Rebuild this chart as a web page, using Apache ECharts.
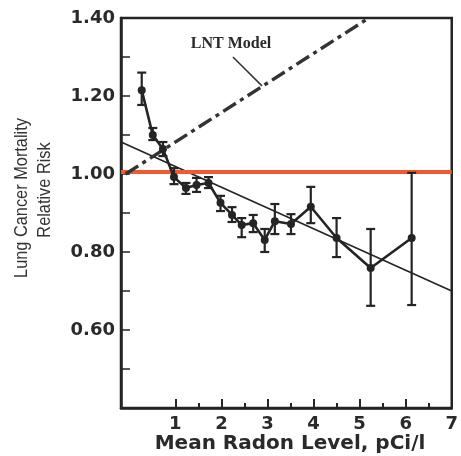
<!DOCTYPE html>
<html>
<head>
<meta charset="utf-8">
<script src="https://cdn.jsdelivr.net/npm/echarts@6/dist/echarts.min.js"></script>
<style>
html,body{margin:0;padding:0;background:#fff;}
#c{width:461px;height:456px;}
</style>
</head>
<body>
<div id="c"></div>
<script>
// Data
var radonLevel = [0.27, 0.51, 0.73, 0.97, 1.23, 1.46, 1.72, 1.98, 2.23, 2.44, 2.69, 2.94, 3.16, 3.51, 3.94, 4.50, 5.24, 6.13];
var relativeRisk = [1.215, 1.100, 1.064, 0.992, 0.964, 0.972, 0.977, 0.926, 0.895, 0.869, 0.874, 0.831, 0.879, 0.872, 0.916, 0.836, 0.759, 0.836];
var errLow  = [1.177, 1.087, 1.046, 0.974, 0.949, 0.954, 0.964, 0.905, 0.877, 0.838, 0.851, 0.800, 0.846, 0.846, 0.874, 0.787, 0.662, 0.664];
var errHigh = [1.260, 1.118, 1.082, 1.015, 0.977, 0.990, 0.992, 0.944, 0.915, 0.887, 0.895, 0.859, 0.923, 0.897, 0.967, 0.887, 0.859, 1.003];
var fitLineX = [-0.18, 7.0];
var fitLineY = [1.082, 0.700];
var lntX = [-0.08, 5.20];
var lntY = [1.000, 1.400];
var refRiskX = [-0.18, 7.0];
var refRiskY = [1.005, 1.005];
var leaderX = [2.25, 2.88];
var leaderY = [1.300, 1.226];
var xTickLabels = [1, 2, 3, 4, 5, 6, 7];
var xMinorTicks = [1.5, 2.5, 3.5, 4.5, 5.5, 6.5];
var yTickLabels = [0.6, 0.8, 1.0, 1.2, 1.4];
var yTicks = [0.5, 0.6, 0.7, 0.8, 0.9, 1.0, 1.1, 1.2, 1.3];

function pairs(xs, ys){ return xs.map(function(x,i){ return [x, ys[i]]; }); }

var INK = '#242424';
var chart = echarts.init(document.getElementById('c'), null, {renderer:'canvas'});
var option = {
  backgroundColor: '#ffffff',
  animation: false,
  grid: {left:121, top:18, right:9, bottom:48, show:true, borderColor:INK, borderWidth:2.5, backgroundColor:'transparent'},
  xAxis: [{
    type:'value', min:-0.18, max:7.0,
    axisLine:{show:true, onZero:false, lineStyle:{color:INK, width:2.5}},
    axisTick:{show:true, inside:true, length:9, customValues: xTickLabels.slice(0,6), lineStyle:{color:INK, width:2}},
    axisLabel:{show:true, customValues: xTickLabels, margin:7, color:'#2a2a2a', fontFamily:'DejaVu Sans', fontWeight:'bold', fontSize:18,
      formatter:function(v){ return String(Math.round(v)); }},
    splitLine:{show:false}
  },{
    type:'value', min:-0.18, max:7.0, position:'bottom',
    axisLine:{show:false},
    axisTick:{show:true, inside:true, length:5, customValues: xMinorTicks, lineStyle:{color:INK, width:2}},
    axisLabel:{show:false},
    splitLine:{show:false}
  }],
  yAxis: {
    type:'value', min:0.4, max:1.4,
    axisLine:{show:true, onZero:false, lineStyle:{color:INK, width:2.5}},
    axisTick:{show:true, inside:true, length:9, customValues: yTicks, lineStyle:{color:INK, width:1.5}},
    axisLabel:{show:true, customValues: yTickLabels, margin:6, color:'#2a2a2a', fontFamily:'DejaVu Sans', fontWeight:'bold', fontSize:18,
      formatter:function(v){ return v.toFixed(2); }},
    splitLine:{show:false}
  },
  graphic: [
    {type:'text', x:22, y:198, rotation:Math.PI/2, scaleX:0.86, scaleY:1,
      style:{text:'Lung Cancer Mortality', fill:'#333', font:'19px "Liberation Sans", Arial, sans-serif', textAlign:'center', textVerticalAlign:'middle'}},
    {type:'text', x:45, y:190, rotation:Math.PI/2, scaleX:0.86, scaleY:1,
      style:{text:'Relative Risk', fill:'#333', font:'19px "Liberation Sans", Arial, sans-serif', textAlign:'center', textVerticalAlign:'middle'}},
    {type:'text', x:290, y:444,
      style:{text:'Mean Radon Level, pCi/l', fill:'#2a2a2a', font:'bold 20px "DejaVu Sans", sans-serif', textAlign:'center', textVerticalAlign:'middle'}},
    {type:'text', x:231, y:44,
      style:{text:'LNT Model', fill:'#2a2a2a', font:'bold 16px "Liberation Serif", "Times New Roman", serif', textAlign:'center', textVerticalAlign:'middle'}}
  ],
  series: [
    {type:'line', name:'Fit', data: pairs(fitLineX, fitLineY), showSymbol:false, symbol:'none',
      lineStyle:{color:INK, width:1.6}, z:2, silent:true},
    {type:'line', name:'Reference', data: pairs(refRiskX, refRiskY), showSymbol:false, symbol:'none',
      lineStyle:{color:'#f05a2e', width:4}, z:3, silent:true},
    {type:'line', name:'LNT', data: pairs(lntX, lntY), showSymbol:false, symbol:'none',
      lineStyle:{color:'#333', width:3.4, type:[15,5,4,5]}, z:3, silent:true},
    {type:'line', name:'Leader', data: pairs(leaderX, leaderY), showSymbol:false, symbol:'none',
      lineStyle:{color:'#333', width:1.5}, z:3, silent:true},
    {type:'custom', name:'Error', z:4,
      data: radonLevel.map(function(x,i){ return [x, errLow[i], errHigh[i]]; }),
      renderItem:function(params, api){
        var lo = api.coord([api.value(0), api.value(1)]);
        var hi = api.coord([api.value(0), api.value(2)]);
        var hw = 4.5;
        var st = {stroke:INK, lineWidth:2.2};
        return {type:'group', children:[
          {type:'line', shape:{x1:lo[0], y1:lo[1], x2:hi[0], y2:hi[1]}, style:st},
          {type:'line', shape:{x1:lo[0]-hw, y1:lo[1], x2:lo[0]+hw, y2:lo[1]}, style:st},
          {type:'line', shape:{x1:hi[0]-hw, y1:hi[1], x2:hi[0]+hw, y2:hi[1]}, style:st}
        ]};
      }},
    {type:'line', name:'Data', data: pairs(radonLevel, relativeRisk), symbol:'circle', symbolSize:8, showSymbol:true,
      lineStyle:{color:INK, width:2.6}, itemStyle:{color:INK}, z:5, silent:true}
  ]
};
chart.setOption(option);
</script>
</body>
</html>
